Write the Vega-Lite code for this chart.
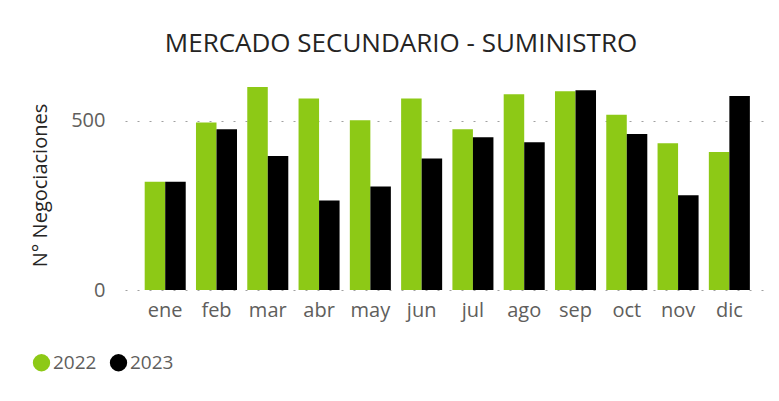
{
  "$schema": "https://vega.github.io/schema/vega-lite/v6.json",
  "autosize": "none",
  "width": 638,
  "height": 210,
  "padding": {"left": 125, "top": 80, "right": 16, "bottom": 111},
  "background": "white",
  "title": {
    "text": "MERCADO SECUNDARIO - SUMINISTRO",
    "font": "Open Sans",
    "fontSize": 26,
    "fontWeight": "normal",
    "color": "#252423",
    "anchor": "middle",
    "dx": -43,
    "offset": 23
  },
  "data": {
    "values": [
      {"mes": "ene", "anio": "2022", "valor": 320},
      {"mes": "ene", "anio": "2023", "valor": 320},
      {"mes": "feb", "anio": "2022", "valor": 495},
      {"mes": "feb", "anio": "2023", "valor": 475},
      {"mes": "mar", "anio": "2022", "valor": 600},
      {"mes": "mar", "anio": "2023", "valor": 396},
      {"mes": "abr", "anio": "2022", "valor": 566},
      {"mes": "abr", "anio": "2023", "valor": 265},
      {"mes": "may", "anio": "2022", "valor": 502},
      {"mes": "may", "anio": "2023", "valor": 306},
      {"mes": "jun", "anio": "2022", "valor": 566},
      {"mes": "jun", "anio": "2023", "valor": 389},
      {"mes": "jul", "anio": "2022", "valor": 475},
      {"mes": "jul", "anio": "2023", "valor": 452},
      {"mes": "ago", "anio": "2022", "valor": 579},
      {"mes": "ago", "anio": "2023", "valor": 437},
      {"mes": "sep", "anio": "2022", "valor": 588},
      {"mes": "sep", "anio": "2023", "valor": 591},
      {"mes": "oct", "anio": "2022", "valor": 518},
      {"mes": "oct", "anio": "2023", "valor": 461},
      {"mes": "nov", "anio": "2022", "valor": 434},
      {"mes": "nov", "anio": "2023", "valor": 280},
      {"mes": "dic", "anio": "2022", "valor": 408},
      {"mes": "dic", "anio": "2023", "valor": 574}
    ]
  },
  "mark": {"type": "bar"},
  "encoding": {
    "x": {
      "field": "mes",
      "type": "nominal",
      "sort": ["ene","feb","mar","abr","may","jun","jul","ago","sep","oct","nov","dic"],
      "scale": {"paddingInner": 0.2, "paddingOuter": 0.32, "align": 0.6},
      "axis": {
        "title": null,
        "labelAngle": 0,
        "domain": false,
        "ticks": false,
        "labelFont": "Open Sans",
        "labelFontSize": 20,
        "labelColor": "#605E5C",
        "labelPadding": 10
      }
    },
    "xOffset": {"field": "anio", "type": "nominal"},
    "y": {
      "field": "valor",
      "type": "quantitative",
      "scale": {"domain": [0, 621], "nice": false},
      "axis": {
        "title": "N° Negociaciones",
        "titleFont": "Open Sans",
        "titleFontSize": 20,
        "titleFontWeight": "normal",
        "titleColor": "#252423",
        "titlePadding": 20,
        "values": [0, 500],
        "domain": false,
        "ticks": false,
        "labelFont": "Open Sans",
        "labelFontSize": 20,
        "labelColor": "#605E5C",
        "labelPadding": 20,
        "gridColor": "#A0A0A0",
        "gridDash": [2, 10],
        "gridWidth": 1.2
      }
    },
    "color": {
      "field": "anio",
      "type": "nominal",
      "scale": {"domain": ["2022", "2023"], "range": ["#8DC916", "#000000"]},
      "legend": {
        "title": null,
        "orient": "none",
        "legendX": -93,
        "legendY": 273,
        "direction": "horizontal",
        "symbolType": "circle",
        "symbolSize": 300,
        "labelFont": "Open Sans",
        "labelFontSize": 19,
        "labelColor": "#605E5C",
        "labelOffset": 2,
        "columnPadding": 12
      }
    }
  },
  "config": {"view": {"stroke": null}}
}
